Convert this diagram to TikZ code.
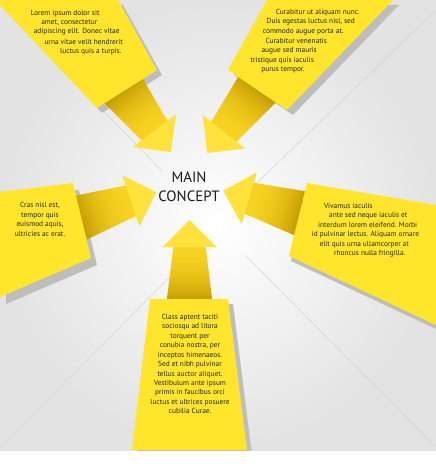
\documentclass[tikz,border=0pt]{standalone}
\usepackage{fontspec}
\setmainfont{PT Sans}
\usetikzlibrary{calc}

\definecolor{lemon}{HTML}{FFE52B}
\definecolor{stemlight}{HTML}{F7D222}
\definecolor{stemdark}{HTML}{C39900}
\definecolor{headyellow}{HTML}{FFE23C}
\definecolor{shadowgray}{HTML}{BDBDBD}

% stem and head of one pointer: name, base point, angle, stem length
\newcommand{\pointer}[4]{%
  \begin{scope}[shift={(#2)}, rotate={-(#3)}]
    \coordinate (#1-base) at (0,0);
    \coordinate (#1-neck) at (#4,0);
    % stem in thin slices, dark next to the banner
    \foreach \k in {0,...,23}{
      \pgfmathsetmacro{\xa}{-4+\k*(#4+4)/24}
      \pgfmathsetmacro{\xb}{-4+(\k+1)*(#4+4)/24+1}
      \pgfmathsetmacro{\wa}{23-7*\k/24}
      \pgfmathsetmacro{\wb}{23-7*(\k+1)/24}
      \pgfmathtruncatemacro{\mix}{100*(1-\k/24)^2}
      \fill[stemdark!\mix!stemlight] (\xa,-\wa) -- (\xb,-\wb) -- (\xb,\wb) -- (\xa,\wa) -- cycle;
    }
    \fill[head] (#4,-27) -- (#4+27,0) -- (#4,27) -- cycle;
  \end{scope}}

\begin{document}
\begin{tikzpicture}[x=1bp, y=-1bp]
    % Define styles
    \tikzstyle{banner} = [fill=lemon]
    \tikzstyle{bannershadow} = [fill=shadowgray]
    \tikzstyle{head} = [fill=headyellow]
    \tikzstyle{ray} = [draw=black!16, line width=0.6bp]
    \tikzstyle{blurb} = [font=\fontsize{7.4}{9.5}\selectfont, text=black!85, inner sep=0pt]

    \useasboundingbox (0,0) rectangle (436,470);
    \fill[white] (0,0) rectangle (436,470);

    \begin{scope}
        \clip (0,0) rectangle (436,450);
        \shade[inner color=white, outer color=black!11] (0,0) rectangle (436,450);

        % Thin rays towards the middle
        \draw[ray] (0,5) -- (163,172);
        \draw[ray] (436,10) -- (258,182);
        \draw[ray] (0,447) -- (190,257);
        \draw[ray] (436,447) -- (245,255);

        % Shadows under the banners
        \fill[bannershadow, shift={(5,5)}] (0,0) -- (118,0) -- (157,70) -- (97,108) -- (0,5) -- cycle;
        \fill[bannershadow, shift={(6,5)}] (267,0) -- (393,0) -- (287,110) -- (228,70) -- cycle;
        \fill[bannershadow, shift={(6,7)}] (0,192) -- (73,183) -- (91,258) -- (0,297) -- cycle;
        \fill[bannershadow, shift={(2,5)}] (307,183) -- (436,205) -- (436,325) -- (289,256) -- cycle;
        \fill[bannershadow, shift={(5,5)}] (150,299) -- (228,299) -- (247,450) -- (132,450) -- cycle;

        % Pointers
        \pointer{tl}{124,91}{52.5}{50}
        \pointer{tr}{256.5,90}{128}{53}
        \pointer{lf}{80.8,217.5}{-18.5}{52.7}
        \pointer{rt}{299.5,213}{196.3}{52.4}
        \pointer{bt}{189.5,299}{-90}{52}

        % Banners
        \fill[banner] (0,0) -- (118,0) -- (157,70) -- (97,108) -- (0,5) -- cycle;
        \fill[banner] (267,0) -- (393,0) -- (287,110) -- (228,70) -- cycle;
        \fill[banner] (0,192) -- (73,183) -- (91,258) -- (0,297) -- cycle;
        \fill[banner] (307,183) -- (436,205) -- (436,325) -- (289,256) -- cycle;
        \fill[banner] (150,299) -- (228,299) -- (247,450) -- (132,450) -- cycle;
    \end{scope}

    % Place texts
    \node[font=\fontsize{15}{19.3}\selectfont, align=center, text=black!90] (main) at (189,187) {MAIN\\CONCEPT};

    \foreach \x/\y/\txt [count=\i] in {65.2/13.3/Lorem ipsum dolor sit, 69.3/22.7/{amet, consectetur},
        76.7/32/adipiscing elit. Donec vitae, 83.7/41.7/urna vitae velit hendrerit, 90.8/51.3/luctus quis a turpis.}
        \node[blurb] (tl-\i) at (\x,\y) {\txt};

    \foreach \x/\y/\txt [count=\i] in {317.8/12.3/Curabitur ut aliquam nunc., 310.8/22/{Duis egestas luctus nisl, sed},
        303.3/31.7/commodo augue porta at., 296.3/41.3/Curabitur venenatis, 289.2/51/augue sed mauris,
        282.2/60.7/tristique quis iaculis, 283/70.3/purus tempor.}
        \node[blurb] (tr-\i) at (\x,\y) {\txt};

    \foreach \x/\y/\txt [count=\i] in {348.3/206/Vivamus iaculis, 368.3/215.7/ante sed neque iaculis et,
        367.7/225/interdum lorem eleifend. Morbi, 365.5/234.7/id pulvinar lectus. Aliquam ornare,
        364.2/244.3/elit quis urna ullamcorper at, 369.7/254/rhoncus nulla fringilla.}
        \node[blurb] (rt-\i) at (\x,\y) {\txt};

    \node[blurb, align=center] (lf-text) at (40,219.5) {Cras nisl est,\\tempor quis\\euismod aquis,\\ultricies ac erat.};

    \node[blurb, align=center] (bt-text) at (190,364) {Class aptent taciti\\sociosqu ad litora\\torquent per\\conubia nostra, per\\inceptos himenaeos.\\Sed et nibh pulvinar\\tellus auctor aliquet.\\Vestibulum ante ipsum\\primis in faucibus orci\\luctus et ultrices posuere\\cubilia Curae.};

\end{tikzpicture}
\end{document}
